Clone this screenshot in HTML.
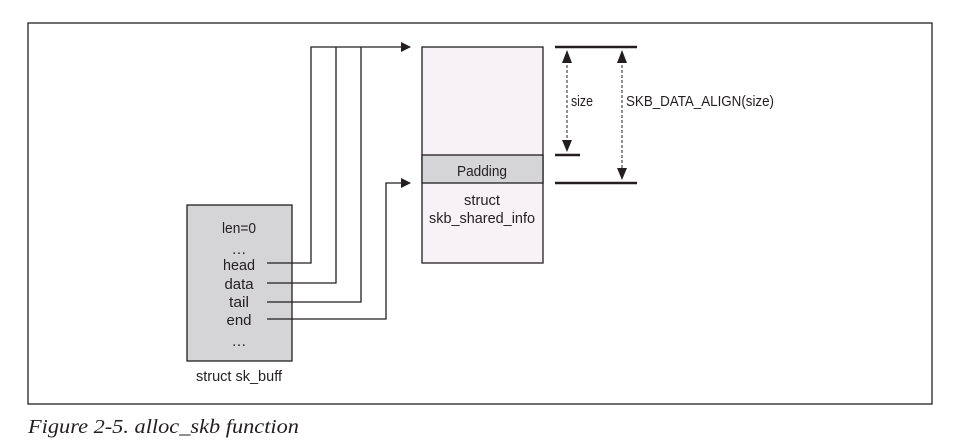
<!DOCTYPE html>
<html><head><meta charset="utf-8"><style>
html,body{margin:0;padding:0;background:#fff;}
svg{display:block;}
text{font-family:"Liberation Sans",sans-serif;font-size:15px;fill:#231f20;}
</style></head><body>
<svg width="958" height="446" viewBox="0 0 958 446" xmlns="http://www.w3.org/2000/svg">
<defs>
<marker id="a" markerWidth="10" markerHeight="10" refX="9" refY="5" orient="auto" markerUnits="userSpaceOnUse"><path d="M0,0 L10,5 L0,10 Z" fill="#231f20"/></marker>
<marker id="b" markerWidth="10" markerHeight="12" refX="5" refY="11" orient="auto-start-reverse" markerUnits="userSpaceOnUse"><path d="M0,0 L10,0 L5,12 Z" fill="#231f20" transform="rotate(0)"/></marker>
</defs>
<rect x="28" y="23" width="904" height="381" fill="#fff" stroke="#231f20" stroke-width="1.3"/>
<!-- sk_buff -->
<rect x="187" y="205" width="105" height="156" fill="#d5d4d7" stroke="#231f20" stroke-width="1.3"/>
<text x="239" y="233" text-anchor="middle" textLength="34" lengthAdjust="spacingAndGlyphs">len=0</text>
<text x="239" y="254" text-anchor="middle">…</text>
<text x="239" y="270" text-anchor="middle" textLength="32" lengthAdjust="spacingAndGlyphs">head</text>
<text x="239" y="289" text-anchor="middle" textLength="29" lengthAdjust="spacingAndGlyphs">data</text>
<text x="239" y="307" text-anchor="middle" textLength="20" lengthAdjust="spacingAndGlyphs">tail</text>
<text x="239" y="325" text-anchor="middle" textLength="25" lengthAdjust="spacingAndGlyphs">end</text>
<text x="239" y="346" text-anchor="middle">…</text>
<text x="239" y="381" text-anchor="middle" textLength="86" lengthAdjust="spacingAndGlyphs" font-size="14">struct sk_buff</text>
<!-- connectors -->
<g fill="none" stroke="#231f20" stroke-width="1.3">
<polyline points="267,263 311,263 311,47 410,47" marker-end="url(#a)"/>
<polyline points="267,283 336,283 336,47"/>
<polyline points="267,302 361,302 361,47"/>
<polyline points="267,319 386,319 386,183 410,183" marker-end="url(#a)"/>
</g>
<!-- data box -->
<rect x="422" y="47" width="121" height="216" fill="#f6f2f5" stroke="#231f20" stroke-width="1.3"/>
<rect x="422" y="155" width="121" height="28" fill="#d5d4d7" stroke="#231f20" stroke-width="1.3"/>
<text x="482" y="176" text-anchor="middle" textLength="50" lengthAdjust="spacingAndGlyphs">Padding</text>
<text x="482" y="205" text-anchor="middle" textLength="36" lengthAdjust="spacingAndGlyphs">struct</text>
<text x="482" y="223" text-anchor="middle" textLength="106" lengthAdjust="spacingAndGlyphs">skb_shared_info</text>
<!-- dimension lines -->
<g stroke="#231f20" stroke-width="2.5">
<line x1="555" y1="47" x2="637" y2="47"/>
<line x1="555" y1="155" x2="580" y2="155"/>
<line x1="555" y1="183" x2="637" y2="183"/>
</g>
<g stroke="#231f20" stroke-width="1" stroke-dasharray="3,2">
<line x1="567" y1="60" x2="567" y2="142"/>
<line x1="622" y1="60" x2="622" y2="170"/>
</g>
<g fill="#231f20">
<path d="M562,63 L572,63 L567,50 Z"/>
<path d="M562,140 L572,140 L567,152 Z"/>
<path d="M617,63 L627,63 L622,50 Z"/>
<path d="M617,168 L627,168 L622,180 Z"/>
</g>
<text x="571" y="106" textLength="22" lengthAdjust="spacingAndGlyphs">size</text>
<text x="626" y="106" textLength="148" lengthAdjust="spacingAndGlyphs">SKB_DATA_ALIGN(size)</text>
<text x="28" y="433" style="font-family:'Liberation Serif',serif;font-style:italic;font-size:20px" textLength="271" lengthAdjust="spacingAndGlyphs">Figure 2-5. alloc_skb function</text>
</svg>
</body></html>
